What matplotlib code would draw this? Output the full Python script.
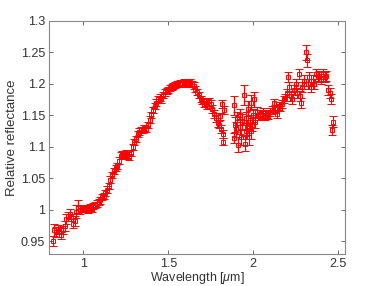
import matplotlib
matplotlib.use("Agg")
import matplotlib.pyplot as plt
from matplotlib.ticker import FuncFormatter

# spectrum
wavelength = [
    0.82, 0.83, 0.84, 0.85, 0.86, 0.87, 0.88, 0.89, 0.90, 0.91,
    0.92, 0.93, 0.94, 0.95, 0.96, 0.97, 0.98, 0.99, 1.00, 1.01,
    1.02, 1.03, 1.04, 1.05, 1.06, 1.07, 1.08, 1.09, 1.10, 1.11,
    1.12, 1.13, 1.14, 1.15, 1.16, 1.17, 1.18, 1.19, 1.20, 1.21,
    1.22, 1.23, 1.24, 1.25, 1.26, 1.27, 1.28, 1.29, 1.30, 1.31,
    1.32, 1.33, 1.34, 1.35, 1.36, 1.37, 1.38, 1.39, 1.40, 1.41,
    1.42, 1.43, 1.44, 1.45, 1.46, 1.47, 1.48, 1.49, 1.50, 1.51,
    1.52, 1.53, 1.54, 1.55, 1.56, 1.57, 1.58, 1.59, 1.60, 1.61,
    1.62, 1.63, 1.64, 1.65, 1.66, 1.67, 1.68, 1.69, 1.70, 1.71,
    1.72, 1.73, 1.74, 1.75, 1.76, 1.77, 1.78, 1.79, 1.80, 1.805,
    1.81, 1.815, 1.82, 1.825, 1.83, 1.885, 1.888, 1.895, 1.90, 1.905,
    1.912, 1.92, 1.925, 1.93, 1.935, 1.945, 1.95, 1.955, 1.96, 1.965,
    1.97, 1.975, 1.98, 1.985, 1.99, 1.995, 2.00, 2.005, 2.01, 2.02,
    2.03, 2.04, 2.05, 2.06, 2.07, 2.08, 2.09, 2.10, 2.11, 2.12,
    2.13, 2.14, 2.15, 2.16, 2.17, 2.18, 2.19, 2.20, 2.205, 2.21,
    2.22, 2.23, 2.24, 2.25, 2.26, 2.27, 2.275, 2.28, 2.29, 2.30,
    2.31, 2.315, 2.32, 2.33, 2.34, 2.35, 2.36, 2.37, 2.38, 2.39,
    2.40, 2.41, 2.42, 2.43, 2.44, 2.45, 2.455, 2.465, 2.47,
]
reflectance = [
    0.951, 0.968, 0.965, 0.970, 0.967, 0.960, 0.968, 0.975, 0.985, 0.990,
    0.993, 0.988, 0.978, 0.982, 0.997, 1.005, 1.000, 1.003, 1.002, 1.001,
    1.003, 1.000, 1.004, 1.002, 1.006, 1.008, 1.010, 1.012, 1.015, 1.020,
    1.022, 1.027, 1.032, 1.038, 1.048, 1.055, 1.062, 1.066, 1.070, 1.078,
    1.086, 1.088, 1.085, 1.090, 1.087, 1.084, 1.090, 1.100, 1.108, 1.112,
    1.120, 1.124, 1.127, 1.126, 1.130, 1.128, 1.135, 1.143, 1.150, 1.158,
    1.165, 1.170, 1.176, 1.178, 1.175, 1.182, 1.186, 1.188, 1.190, 1.193,
    1.195, 1.196, 1.198, 1.200, 1.199, 1.201, 1.200, 1.202, 1.203, 1.201,
    1.200, 1.202, 1.199, 1.197, 1.192, 1.187, 1.182, 1.176, 1.172, 1.168,
    1.170, 1.165, 1.172, 1.168, 1.160, 1.152, 1.145, 1.137, 1.135, 1.148,
    1.128, 1.168, 1.120, 1.108, 1.158, 1.114, 1.166, 1.135, 1.128, 1.145,
    1.103, 1.132, 1.150, 1.115, 1.140, 1.182, 1.105, 1.125, 1.145, 1.130,
    1.160, 1.115, 1.140, 1.125, 1.170, 1.135, 1.150, 1.175, 1.140, 1.155,
    1.148, 1.152, 1.150, 1.155, 1.148, 1.152, 1.150, 1.155, 1.158, 1.170,
    1.160, 1.152, 1.165, 1.162, 1.168, 1.175, 1.178, 1.185, 1.210, 1.195,
    1.180, 1.175, 1.190, 1.200, 1.185, 1.215, 1.180, 1.170, 1.195, 1.205,
    1.250, 1.237, 1.200, 1.210, 1.195, 1.205, 1.200, 1.215, 1.210, 1.212,
    1.208, 1.215, 1.210, 1.212, 1.190, 1.185, 1.175, 1.127, 1.140,
]
error = [
    0.008, 0.010, 0.008, 0.006, 0.006, 0.007, 0.006, 0.008, 0.008, 0.007,
    0.008, 0.006, 0.007, 0.008, 0.010, 0.010, 0.006, 0.005, 0.005, 0.005,
    0.005, 0.005, 0.005, 0.005, 0.005, 0.005, 0.005, 0.005, 0.005, 0.005,
    0.005, 0.005, 0.005, 0.005, 0.005, 0.005, 0.005, 0.005, 0.005, 0.005,
    0.005, 0.005, 0.005, 0.005, 0.005, 0.005, 0.005, 0.005, 0.005, 0.005,
    0.005, 0.005, 0.005, 0.005, 0.005, 0.005, 0.005, 0.005, 0.005, 0.005,
    0.005, 0.005, 0.005, 0.005, 0.005, 0.005, 0.005, 0.005, 0.005, 0.005,
    0.005, 0.005, 0.005, 0.005, 0.005, 0.005, 0.005, 0.005, 0.005, 0.005,
    0.005, 0.005, 0.005, 0.005, 0.005, 0.005, 0.005, 0.005, 0.005, 0.005,
    0.005, 0.005, 0.006, 0.006, 0.006, 0.006, 0.006, 0.006, 0.006, 0.006,
    0.006, 0.006, 0.006, 0.006, 0.006, 0.008, 0.015, 0.012, 0.012, 0.010,
    0.012, 0.012, 0.010, 0.012, 0.012, 0.016, 0.012, 0.012, 0.010, 0.012,
    0.012, 0.012, 0.010, 0.012, 0.012, 0.010, 0.010, 0.012, 0.010, 0.008,
    0.006, 0.006, 0.006, 0.006, 0.006, 0.006, 0.006, 0.006, 0.006, 0.006,
    0.006, 0.006, 0.006, 0.006, 0.006, 0.006, 0.006, 0.006, 0.008, 0.008,
    0.008, 0.008, 0.008, 0.008, 0.008, 0.008, 0.008, 0.008, 0.008, 0.008,
    0.012, 0.010, 0.008, 0.008, 0.008, 0.008, 0.008, 0.008, 0.008, 0.008,
    0.008, 0.008, 0.008, 0.008, 0.008, 0.008, 0.008, 0.008, 0.008,
]

plt.rcParams['font.family'] = ['Liberation Sans', 'DejaVu Sans']
plt.rcParams['mathtext.fontset'] = 'custom'
plt.rcParams['mathtext.it'] = 'Liberation Sans:italic'

fig = plt.figure(figsize=(3.82, 2.86), dpi=100)
ax = fig.add_axes([0.129, 0.112, 0.774, 0.816])

ax.errorbar(wavelength, reflectance, yerr=error, fmt='s', color=(1, 0, 0),
            ecolor=(1, 0, 0), elinewidth=0.9, capsize=3, capthick=0.9,
            markersize=3.5, markerfacecolor='none', markeredgewidth=0.7)

ax.set_xlim(0.8, 2.54)
ax.set_ylim(0.93, 1.3)
ax.set_xticks([1, 1.5, 2, 2.5])
ax.set_yticks([0.95, 1, 1.05, 1.1, 1.15, 1.2, 1.25, 1.3])
fmt = FuncFormatter(lambda v, p: '%g' % v)
ax.xaxis.set_major_formatter(fmt)
ax.yaxis.set_major_formatter(fmt)

ax.tick_params(direction='in', length=3, width=0.6, top=True, right=True,
               labelsize=9, color='#555555', labelcolor='#333333', pad=3)
for s in ax.spines.values():
    s.set_color('#888888')
    s.set_linewidth(0.8)

ax.set_xlabel(r'Wavelength [$\mu$m]', fontsize=9, color='#333333', labelpad=0)
ax.set_ylabel('Relative reflectance', fontsize=9.5, color='#333333', labelpad=2)

fig.savefig('out.png', dpi=100)
